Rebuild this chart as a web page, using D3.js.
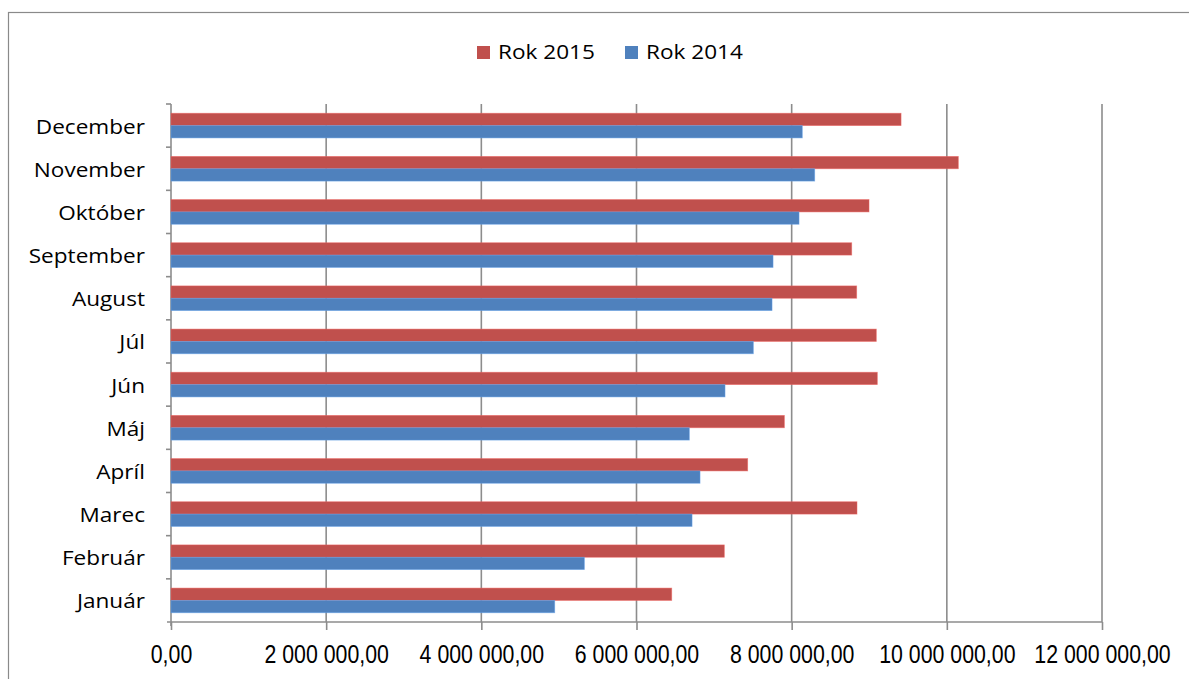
<!DOCTYPE html>
<html>
<head>
<meta charset="utf-8">
<script src="https://cdn.jsdelivr.net/npm/d3@7"></script>
<style>
  body { margin: 0; background: #fff; }
  text { fill: #000; }
</style>
</head>
<body>
<div id="chart"></div>
<script>
var months = ["Január", "Február", "Marec", "Apríl", "Máj", "Jún", "Júl", "August", "September", "Október", "November", "December"];
var rok2015 = [6454000, 7132000, 8842000, 7433000, 7906000, 9104000, 9091000, 8838000, 8774000, 8997000, 10148000, 9410000];
var rok2014 = [4946000, 5328000, 6716000, 6819000, 6681000, 7141000, 7506000, 7747000, 7760000, 8095000, 8297000, 8137000];
var xTicks = [0, 2000000, 4000000, 6000000, 8000000, 10000000, 12000000];
var seriesNames = ["Rok 2015", "Rok 2014"];
var seriesColors = ["#C0504D", "#4F81BD"];

createchart();

function createchart() {
  var width = 1189;
  var height = 679;
  var left = 171, right = 1102, top = 104, bottom = 622;
  var stretch = 1.13; // labels look horizontally wide in the original
  var labelFont = "'Open Sans', sans-serif";

  var svg = d3.select("#chart").append("svg")
    .attr("width", width)
    .attr("height", height);

  // chart frame
  svg.append("rect")
    .attr("x", 8.5).attr("y", 12.5)
    .attr("width", width + 20).attr("height", height + 20)
    .attr("fill", "none").attr("stroke", "#8a8a8a").attr("stroke-width", 1.2);

  var x = d3.scaleLinear().domain([0, 12000000]).range([left, right]);

  // top = December, bottom = Január
  var y = d3.scaleBand().domain(months.slice().reverse()).range([top, bottom]);

  var bandH = y.bandwidth();
  var barH = bandH / 3.5;

  // gridlines
  svg.append("g").selectAll("line").data(xTicks.slice(1)).enter().append("line")
    .attr("x1", function(d) { return x(d); })
    .attr("x2", function(d) { return x(d); })
    .attr("y1", top).attr("y2", bottom)
    .attr("stroke", "#8c8c8c").attr("stroke-width", 1.6);

  // x axis
  var fmt = function(d) {
    var s = d3.format(",.2f")(d);
    return s.replace(/,/g, " ").replace(".", ",");
  };
  var xAxis = svg.append("g")
    .attr("transform", "translate(0," + bottom + ")")
    .call(d3.axisBottom(x).tickValues(xTicks).tickSize(8).tickPadding(15).tickFormat(fmt));
  xAxis.select(".domain").attr("stroke", "#8c8c8c").attr("stroke-width", 1.6)
    .attr("d", "M" + (left - 4) + ",0H" + right);
  xAxis.selectAll(".tick line").attr("stroke", "#8c8c8c").attr("stroke-width", 1.6);
  xAxis.selectAll("text")
    .style("font-size", "26px")
    .style("font-family", "'Liberation Sans', Arial, sans-serif")
    .attr("fill", "#000")
    .attr("transform", "scale(0.82,1)");

  // y axis
  var yAxis = svg.append("g")
    .attr("transform", "translate(" + left + ",0)")
    .call(d3.axisLeft(y).tickSize(0).tickPadding(26));
  yAxis.select(".domain").attr("stroke", "#8c8c8c").attr("stroke-width", 1.6)
    .attr("d", "M0," + top + "V" + (bottom + 4));
  yAxis.selectAll("text")
    .style("font-size", "20px")
    .style("font-family", labelFont)
    .attr("fill", "#000")
    .attr("x", -26 / stretch)
    .attr("dy", "0.40em")
    .attr("transform", "scale(" + stretch + ",1)");

  // category boundary ticks
  svg.append("g").selectAll("line").data(months).enter().append("line")
    .attr("x1", left - 5).attr("x2", left)
    .attr("y1", function(d) { return y(d); })
    .attr("y2", function(d) { return y(d); })
    .attr("stroke", "#8c8c8c").attr("stroke-width", 1.6);

  // bars
  var series = [rok2015, rok2014];
  series.forEach(function(vals, si) {
    svg.append("g").selectAll("rect").data(vals).enter().append("rect")
      .attr("x", x(0))
      .attr("y", function(d, i) { return y(months[i]) + (bandH - 2 * barH) / 2 + si * barH; })
      .attr("width", function(d) { return x(d) - x(0); })
      .attr("height", barH)
      .attr("fill", seriesColors[si])
      .attr("stroke", d3.color(seriesColors[si]).brighter(0.6))
      .attr("stroke-opacity", 0.6)
      .attr("stroke-width", 0.8);
  });

  // legend
  var legend = svg.append("g");
  var lx = [477, 625];
  seriesNames.forEach(function(name, i) {
    legend.append("rect")
      .attr("x", lx[i]).attr("y", 46)
      .attr("width", 13).attr("height", 13)
      .attr("fill", seriesColors[i]);
    legend.append("text")
      .attr("x", (lx[i] + 21) / stretch).attr("y", 59)
      .attr("transform", "scale(" + stretch + ",1)")
      .style("font-size", "20px")
      .style("font-family", labelFont)
      .text(name);
  });
}
</script>
</body>
</html>
